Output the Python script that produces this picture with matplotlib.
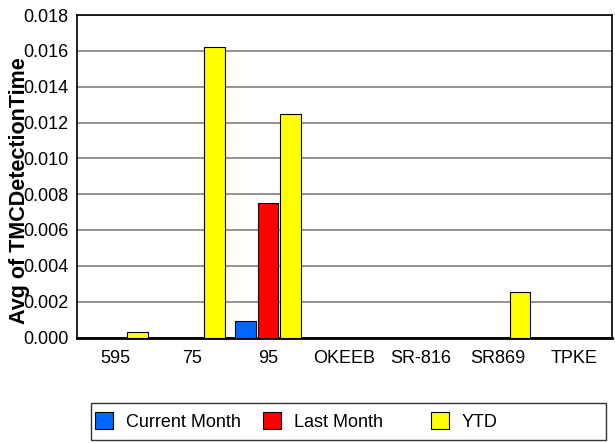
import numpy as np
import matplotlib
matplotlib.use('Agg')
import matplotlib.pyplot as plt
from matplotlib.patches import Rectangle

plt.rcParams['font.family'] = ['Liberation Sans', 'DejaVu Sans']

categories = ['595', '75', '95', 'OKEEB', 'SR-816', 'SR869', 'TPKE']
current_month = [0, 0, 0.0009, 0, 0, 0, 0]
last_month = [0, 0, 0.0075, 0, 0, 0, 0]
ytd = [0.0003, 0.0162, 0.0125, 0, 0, 0.00256, 0]

series = [('Current Month', current_month, '#0066ff'),
          ('Last Month', last_month, '#ff0000'),
          ('YTD', ytd, '#ffff00')]

fig = plt.figure(figsize=(6.15, 4.43), dpi=100)
ax = fig.add_axes([77/615, 1-337.5/443, 535/615, 322.5/443])

x = np.arange(len(categories))
w = 0.27
step = 0.295
bars = []
for i, (name, vals, col) in enumerate(series):
    b = ax.bar(x + (i-1)*step, vals, width=w, color=col, edgecolor='black',
               linewidth=0.8, label=name, zorder=3)
    bars.append(b)

ax.set_xlim(-0.5, len(categories)-0.5)
ax.set_ylim(0, 0.018)
ax.set_yticks(np.arange(0, 0.0181, 0.002))
ax.set_yticklabels(['%.3f' % v for v in np.arange(0, 0.0181, 0.002)])
ax.set_xticks(x)
ax.set_xticklabels(categories)
ax.tick_params(axis='both', length=0, labelsize=13)
ax.tick_params(axis='y', pad=6)
ax.tick_params(axis='x', pad=9)
ax.yaxis.grid(True, color='#808080', linewidth=1.2, zorder=0)
for s in ax.spines.values():
    s.set_color('black')
    s.set_linewidth(1.2)
ax.spines['bottom'].set_linewidth(2)

fig.text(20/615, 1-191/443, 'Avg of TMCDetectionTime', rotation=90,
         ha='center', va='center', fontsize=15.5, fontweight='bold')

# legend frame + one entry per column, columns evenly spaced like the original
fig.patches.append(Rectangle((91/615, 3/443), 515/615, 37/443, transform=fig.transFigure,
                             fill=False, edgecolor='#333333', linewidth=1.0))
for b, (name, vals, col), xl in zip(bars, series, [95, 263, 431]):
    fig.legend([b], [name], loc='center left', bbox_to_anchor=(xl/615, 21.5/443),
               fontsize=13, frameon=False, handlelength=1.0, handleheight=1.0,
               handletextpad=0.7, borderpad=0, borderaxespad=0)

fig.savefig('out.png', dpi=100)
